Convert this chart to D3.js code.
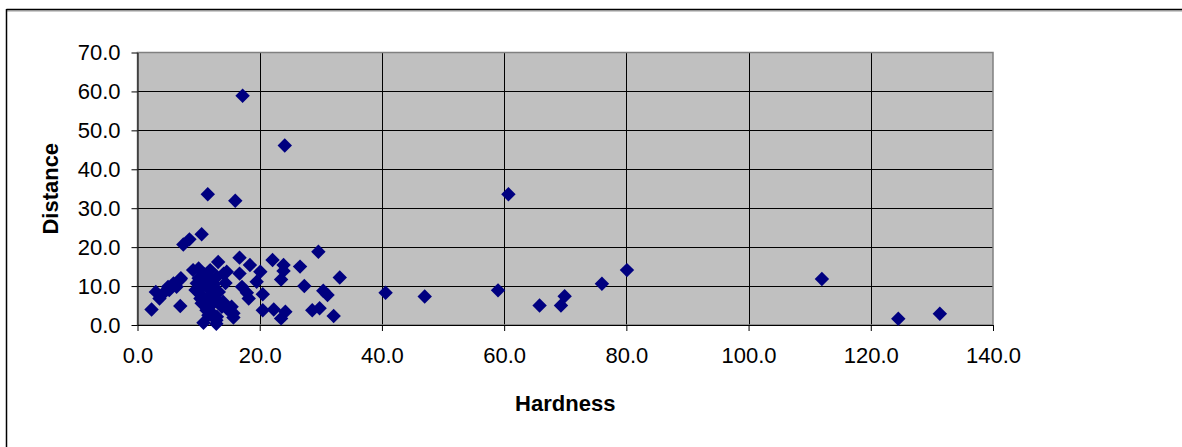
<!DOCTYPE html>
<html>
<head>
<meta charset="utf-8">
<script src="https://cdn.jsdelivr.net/npm/d3@7"></script>
<style>
  body { margin: 0; background: #fff; }
  svg { display: block; font-family: Arial, "Liberation Sans", sans-serif; }
</style>
</head>
<body>
<svg id="viz" width="1182" height="447"></svg>
<script>
// values
var hardness = [2.3, 3.0, 3.6, 4.2, 5.0, 5.2, 5.9, 6.4, 7.0, 7.1, 7.0, 7.5, 8.5, 10.5, 11.5, 16.0, 17.2, 24.1,
    9.1, 10.0, 11.9, 13.2, 14.1, 14.6, 16.7, 16.7, 18.4, 20.1, 19.5, 22.1, 23.9, 23.9, 23.5, 26.6, 27.3,
    29.6, 33.1, 30.4, 31.1, 29.8, 28.6, 32.1, 20.5, 20.5, 22.3, 24.2, 23.5, 17.1, 17.9, 18.2,
    10.8, 12.9, 15.4, 15.7, 15.7, 13.0, 13.5, 14.6, 9.7, 10.2, 10.5, 11.3, 11.9, 13.0, 12.4, 13.8, 15.2, 12.9,
    10.0, 10.6, 11.0, 11.5, 12.0, 12.5, 11.0, 9.5, 10.3, 12.2, 11.6, 14.0, 13.3, 12.0, 14.4,
    40.6, 47.0, 60.7, 59.0, 65.8, 69.3, 69.9, 76.0, 80.1, 112.0, 124.5, 131.3];
var distance = [4.0, 8.5, 6.8, 8.1, 9.8, 9.0, 10.7, 9.8, 11.7, 12.0, 4.9, 20.7, 22.0, 23.3, 33.6, 31.9, 58.9, 46.1,
    14.1, 14.5, 14.1, 16.2, 13.2, 13.7, 17.3, 13.2, 15.4, 13.7, 11.1, 16.7, 15.4, 13.9, 11.7, 15.0, 10.0,
    18.8, 12.2, 8.8, 7.7, 4.3, 3.8, 2.3, 7.9, 3.8, 4.0, 3.4, 1.7, 9.8, 8.3, 6.8,
    0.6, 0.3, 4.7, 3.0, 1.9, 2.1, 5.6, 4.3, 10.7, 8.1, 5.6, 3.8, 9.0, 12.4, 7.3, 4.7, 3.4, 1.2,
    12.0, 9.8, 11.0, 7.0, 5.0, 10.5, 13.0, 9.0, 6.8, 3.0, 2.5, 6.0, 8.5, 11.8, 10.8,
    8.3, 7.3, 33.6, 8.9, 5.0, 5.0, 7.4, 10.6, 14.1, 11.8, 1.6, 2.9];
var xTicks = [0, 20, 40, 60, 80, 100, 120, 140];
var yTicks = [0, 10, 20, 30, 40, 50, 60, 70];

var points = hardness.map(function (h, i) { return { x: h, y: distance[i] }; });

var svg = d3.select("#viz");
var plotLeft = 137.5, plotRight = 993, plotTop = 52.5, plotBottom = 325;

var x = d3.scaleLinear().domain([0, 140]).range([plotLeft, plotRight]);
var y = d3.scaleLinear().domain([0, 70]).range([plotBottom, plotTop]);

// chart frame (only top and left edges are inside the window)
svg.append("line").attr("x1", 6.5).attr("x2", 1182).attr("y1", 11).attr("y2", 11)
    .attr("stroke", "#999").attr("stroke-width", 1);
svg.append("line").attr("x1", 6.5).attr("x2", 1182).attr("y1", 9.5).attr("y2", 9.5)
    .attr("stroke", "#000").attr("stroke-width", 1.5);
svg.append("line").attr("x1", 6.5).attr("x2", 6.5).attr("y1", 9).attr("y2", 447)
    .attr("stroke", "#000").attr("stroke-width", 1.5);

// plot area
svg.append("rect").attr("x", plotLeft).attr("y", plotTop)
    .attr("width", plotRight - plotLeft).attr("height", plotBottom - plotTop)
    .attr("fill", "#c0c0c0");

var grid = svg.append("g").attr("stroke", "#000").attr("stroke-width", 1).attr("shape-rendering", "crispEdges");
grid.selectAll("line.v").data(xTicks.slice(1, -1)).enter().append("line")
    .attr("x1", function (d) { return Math.round(x(d)) + 0.5; })
    .attr("x2", function (d) { return Math.round(x(d)) + 0.5; })
    .attr("y1", plotTop).attr("y2", plotBottom);
grid.selectAll("line.h").data(yTicks.slice(1, -1)).enter().append("line")
    .attr("y1", function (d) { return Math.round(y(d)) + 0.5; })
    .attr("y2", function (d) { return Math.round(y(d)) + 0.5; })
    .attr("x1", plotLeft).attr("x2", plotRight);

svg.append("rect").attr("x", plotLeft).attr("y", plotTop)
    .attr("width", plotRight - plotLeft).attr("height", plotBottom - plotTop)
    .attr("fill", "none").attr("stroke", "#808080").attr("stroke-width", 1.5);

// axes
var xAxis = d3.axisBottom(x).tickValues(xTicks).tickSize(6).tickSizeOuter(0).tickPadding(16)
    .tickFormat(d3.format(".1f"));
var yAxis = d3.axisLeft(y).tickValues(yTicks).tickSize(6).tickSizeOuter(0).tickPadding(11)
    .tickFormat(d3.format(".1f"));

var gx = svg.append("g").attr("transform", "translate(0," + plotBottom + ")").call(xAxis);
var gy = svg.append("g").attr("transform", "translate(" + plotLeft + ",0)").call(yAxis);
[gx, gy].forEach(function (g) {
    g.select(".domain").attr("stroke", "#000").attr("stroke-width", 1);
    g.selectAll(".tick line").attr("stroke", "#000");
    g.selectAll("text").attr("font-size", 22).attr("fill", "#000")
        .attr("font-family", "Arial, 'Liberation Sans', sans-serif");
});

// titles
svg.append("text").attr("x", (plotLeft + plotRight) / 2).attr("y", 411)
    .attr("text-anchor", "middle").attr("font-size", 22).attr("font-weight", "bold")
    .text("Hardness");
svg.append("text")
    .attr("transform", "translate(58," + (plotTop + plotBottom) / 2 + ") rotate(-90)")
    .attr("text-anchor", "middle").attr("font-size", 22).attr("font-weight", "bold")
    .text("Distance");

// markers
var diamond = d3.symbol().type(d3.symbolSquare).size(104);
svg.append("g").selectAll("path").data(points).enter().append("path")
    .attr("d", diamond)
    .attr("transform", function (d) { return "translate(" + x(d.x) + "," + y(d.y) + ") rotate(45)"; })
    .attr("fill", "#000080");
</script>
</body>
</html>
